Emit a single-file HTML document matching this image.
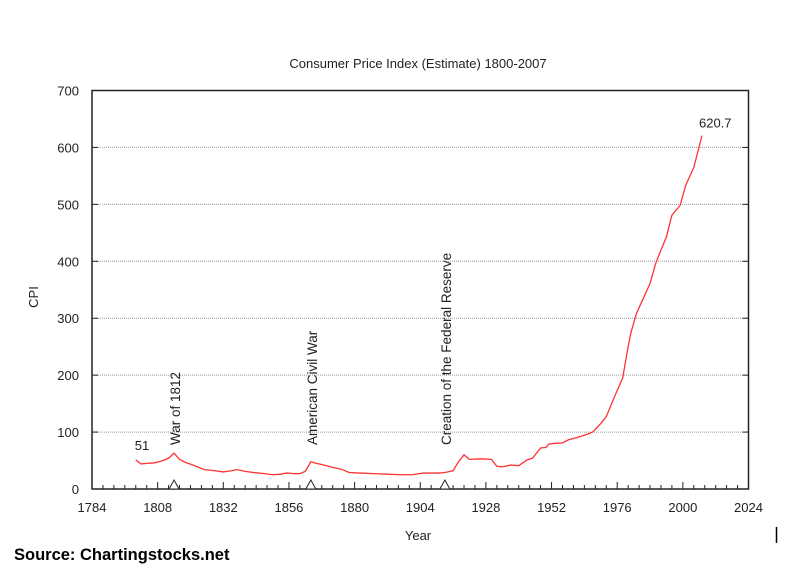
<!DOCTYPE html>
<html><head><meta charset="utf-8"><style>
body{margin:0;background:#fff;}
svg{display:block;font-family:"Liberation Sans",Arial,sans-serif;}
</style></head><body>
<svg id="chart" width="787" height="571" viewBox="0 0 787 571" xmlns="http://www.w3.org/2000/svg">
<rect width="787" height="571" fill="#fff"/>
<text x="418" y="68" font-size="13" text-anchor="middle" fill="#222">Consumer Price Index (Estimate) 1800-2007</text>
<text transform="translate(38,297) rotate(-90)" font-size="13" text-anchor="middle" fill="#222">CPI</text>
<text x="418" y="540" font-size="13" text-anchor="middle" fill="#222">Year</text>
<g id="grid"></g>
<g id="axes"></g>
<g id="series"></g>
<g id="notes"></g>
<text x="14" y="560" font-size="16.5" font-weight="bold" fill="#000">Source: Chartingstocks.net</text>
<line x1="776.5" y1="527" x2="776.5" y2="543" stroke="#000" stroke-width="1.5"/>
</svg>
<script>
const years = [1800,1802,1804,1807,1810,1812,1814,1816,1818,1821,1825,1829,1832,1835,1837,1840,1843,1847,1850,1853,1855,1858,1860,1862,1864,1866,1868,1872,1875,1878,1882,1887,1892,1897,1901,1905,1909,1911,1913,1916,1918,1920,1922,1926,1930,1932,1934,1937,1940,1943,1945,1948,1950,1951,1953,1956,1958,1961,1965,1967,1970,1972,1975,1978,1980,1981,1983,1985,1988,1990,1991,1994,1996,1999,2001,2004,2007];
const cpi = [51,44,45,46,50,54,63,52,47,42,34,32,30,32,34,31,29,27,25,26,28,27,27,31,48,45,43,38,35,29,28,27,26,25,25,28,28,28,29,32,48,60,52,53,52,40,39,42,41,51,54,72,73,79,80,81,86,90,96,100,115,127,162,195,250,274,308,329,361,395,408,443,481,498,533,565,620.7];
const yTicks = [0,100,200,300,400,500,600,700];
const xTicks = [1784,1808,1832,1856,1880,1904,1928,1952,1976,2000,2024];
const events = [{year:1814,label:"War of 1812"},{year:1864,label:"American Civil War"},{year:1913,label:"Creation of the Federal Reserve"}];
const NS="http://www.w3.org/2000/svg";
const L=92,R=748.5,T=90.5,B=489;
const xs=y=>L+(y-1784)/(2024-1784)*(R-L);
const ys=v=>B-v/700*(B-T);
function mk(p,tag,at){const e=document.createElementNS(NS,tag);for(const k in at)e.setAttribute(k,at[k]);p.appendChild(e);return e;}
const grid=document.getElementById('grid'),axes=document.getElementById('axes'),ser=document.getElementById('series'),notes=document.getElementById('notes');
yTicks.forEach(v=>{
 if(v>0&&v<700){const g=mk(grid,'line',{x1:L,x2:R,y1:ys(v),y2:ys(v),stroke:'#999','stroke-dasharray':'1,1'});
 }
 const t=mk(axes,'text',{x:79,y:ys(v)+5,'font-size':13,'text-anchor':'end',fill:'#222'});t.textContent=v;
 
 mk(axes,'line',{x1:L,x2:L+6,y1:ys(v),y2:ys(v),stroke:'#222'});
 mk(axes,'line',{x1:R-6,x2:R,y1:ys(v),y2:ys(v),stroke:'#222'});
});
for(let y=1784;y<=2024;y+=4){const major=(y-1784)%24===0;
 mk(axes,'line',{x1:xs(y),x2:xs(y),y1:B,y2:B-(major?7:4),stroke:'#222'});}
xTicks.forEach(y=>{const t=mk(axes,'text',{x:xs(y),y:512,'font-size':13,'text-anchor':'middle',fill:'#222'});t.textContent=y;
 });
const fr=mk(axes,'rect',{x:L,y:T,width:R-L,height:B-T,fill:'none',stroke:'#222','stroke-width':1.5});

const pl=mk(ser,'polyline',{points:years.map((y,i)=>xs(y)+','+ys(cpi[i])).join(' '),fill:'none',stroke:'#f33','stroke-width':1.3});

const a=mk(notes,'text',{x:xs(years[0])-1,y:ys(cpi[0])-10,'font-size':13,fill:'#222'});a.textContent=cpi[0];

const n=years.length-1;
const b=mk(notes,'text',{x:xs(years[n])-3,y:ys(cpi[n])-8,'font-size':13,fill:'#222'});b.textContent=cpi[n];

events.forEach(ev=>{const x=xs(ev.year);
 const tr=mk(notes,'polygon',{points:`${x-5},${B} ${x+5},${B} ${x},${B-9}`,fill:'#fff',stroke:'#222'});
 
 const t=mk(notes,'text',{transform:`translate(${x+6},${B-44}) rotate(-90)`,'font-size':13.5,fill:'#222'});t.textContent=ev.label;
 });
</script>
</body></html>
